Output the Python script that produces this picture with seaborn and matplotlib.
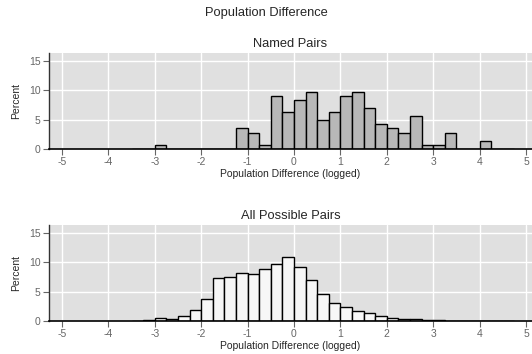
import numpy as np
import pandas as pd
import matplotlib
matplotlib.use("Agg")
import matplotlib.pyplot as plt
import seaborn as sns

# Bin starts (width 0.25) and percent values
named_starts = [-3.0, -1.25, -1.0, -0.75, -0.5, -0.25, 0.0, 0.25, 0.5, 0.75, 1.0,
                1.25, 1.5, 1.75, 2.0, 2.25, 2.5, 2.75, 3.0, 3.25, 4.0]
named_pct = [0.7, 3.5, 2.8, 0.7, 9.0, 6.3, 8.3, 9.7, 4.9, 6.3, 9.0,
             9.7, 6.9, 4.2, 3.5, 2.8, 5.6, 0.7, 0.7, 2.8, 1.4]

all_starts = [-3.25, -3.0, -2.75, -2.5, -2.25, -2.0, -1.75, -1.5, -1.25, -1.0,
              -0.75, -0.5, -0.25, 0.0, 0.25, 0.5, 0.75, 1.0, 1.25, 1.5, 1.75,
              2.0, 2.25, 2.5, 2.75, 3.0, 3.25, 3.5, 3.75, 4.0, 4.25]
all_pct = [0.15, 0.5, 0.3, 0.9, 1.9, 3.8, 7.3, 7.5, 8.1, 7.9,
           8.9, 9.7, 10.9, 9.15, 6.9, 4.6, 3.1, 2.3, 1.7, 1.3, 0.8,
           0.45, 0.35, 0.3, 0.12, 0.1, 0.08, 0.05, 0.05, 0.04, 0.04]

x_ticks = [-5, -4, -3, -2, -1, 0, 1, 2, 3, 4, 5]
y_ticks = [0, 5, 10, 15]
bin_width = 0.25

sns.set_style("white")
plt.rcParams['font.family'] = ['Liberation Sans', 'DejaVu Sans']

fig = plt.figure(figsize=(5.32, 3.54), dpi=100)
fig.text(0.5, 1 - 13 / 354, "Population Difference", ha="center", va="center", fontsize=9.3)

ax1 = fig.add_axes([49 / 532, 1 - 149 / 354, 1 - 49 / 532, 96 / 354])
ax2 = fig.add_axes([49 / 532, 1 - 321 / 354, 1 - 49 / 532, 96 / 354])

panels = [
    (ax1, named_starts, named_pct, "#b8b8b8", "Named Pairs"),
    (ax2, all_starts, all_pct, "#f7f7f7", "All Possible Pairs"),
]

for ax, starts, pct, color, title in panels:
    df = pd.DataFrame({"center": np.asarray(starts) + bin_width / 2,
                       "pct": np.asarray(pct, dtype=float)})
    ax.set_facecolor("#e0e0e0")
    ax.set_axisbelow(True)
    ax.grid(True, color="white", linewidth=1.0)
    sns.histplot(data=df, x="center", weights="pct", binwidth=bin_width,
                 binrange=(-3.5, 4.75), ax=ax,
                 color=color, edgecolor="black", linewidth=1.0, alpha=1.0)
    ax.set_xlim(-5.28, 5.13)
    ax.set_ylim(0, 16.3)
    ax.set_xticks(x_ticks)
    ax.set_xticklabels([str(t) for t in x_ticks])
    ax.set_yticks(y_ticks)
    ax.tick_params(axis="both", labelsize=7.5, labelcolor="#666666", color="#666666",
                   length=4, width=0.8, direction="out", bottom=True, left=True, pad=2)
    for s in ["top", "right"]:
        ax.spines[s].set_visible(False)
    ax.spines["left"].set_color("#333333")
    ax.spines["bottom"].set_color("black")
    ax.spines["left"].set_linewidth(1.0)
    ax.spines["bottom"].set_linewidth(1.2)
    ax.set_ylabel("Percent", fontsize=7.5, labelpad=6)
    ax.set_xlabel("Population Difference (logged)", fontsize=7.5, labelpad=1.5)
    ax.set_title(title, fontsize=9.3, pad=4)

fig.savefig("out.png", dpi=100)
